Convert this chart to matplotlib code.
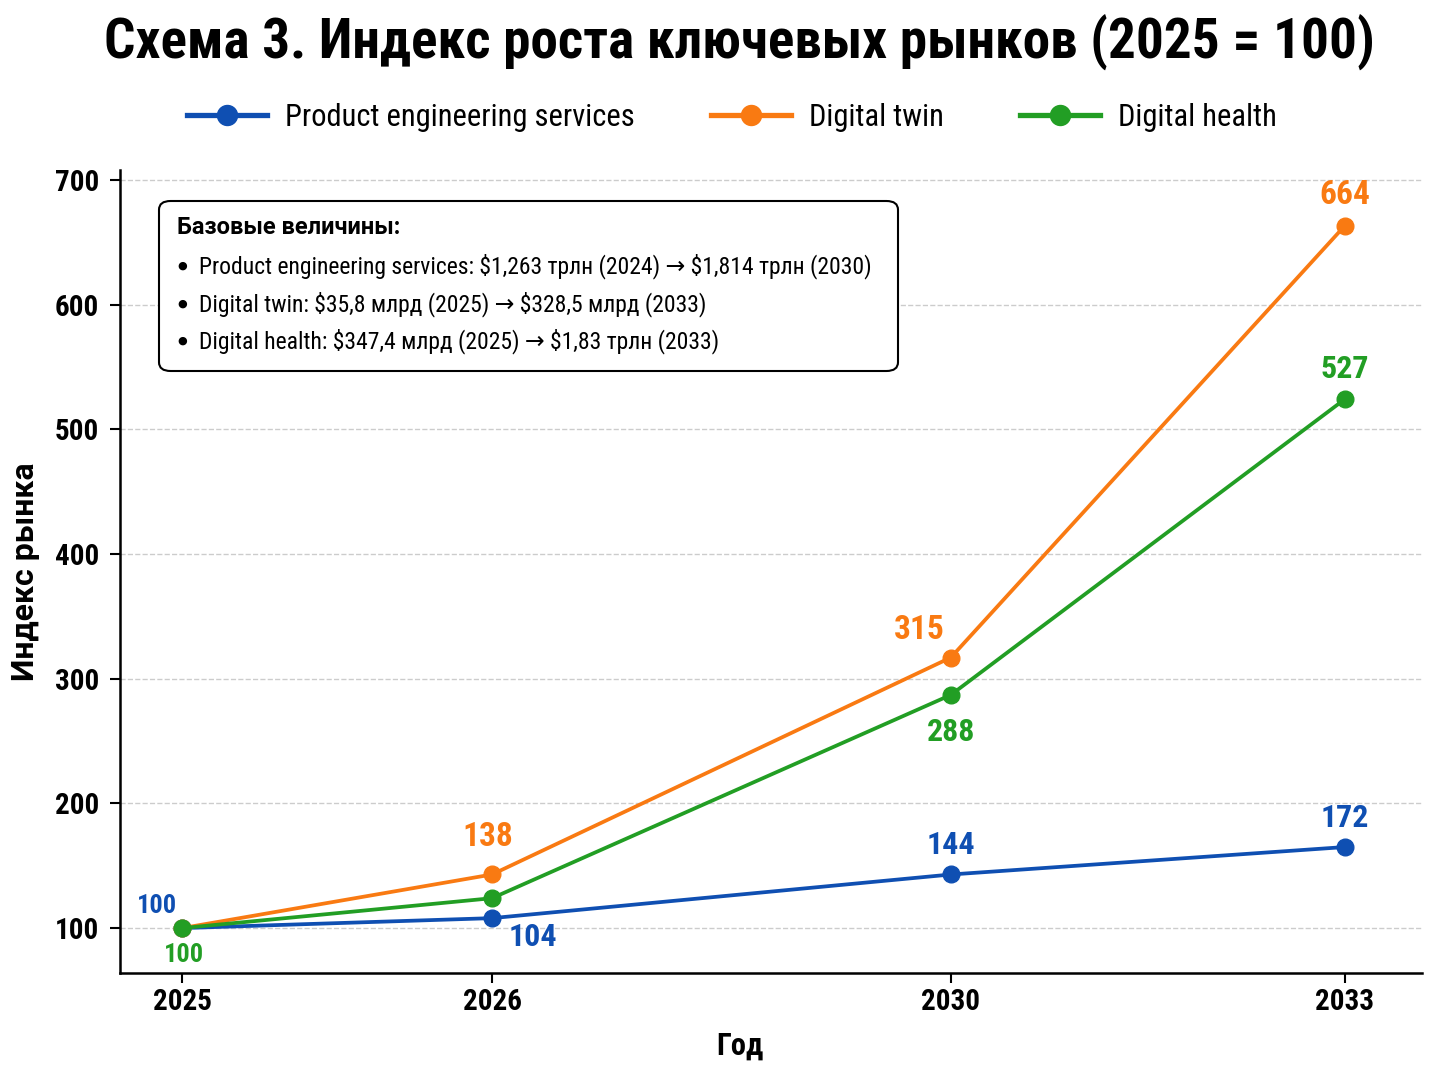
import matplotlib
matplotlib.use("Agg")
import matplotlib.pyplot as plt
from matplotlib import font_manager as fm
from matplotlib.patches import FancyBboxPatch

names = {f.name for f in fm.fontManager.ttflist}
cands = [n for n in ["Roboto Condensed", "Liberation Sans Narrow"] if n in names]
fam = cands[:1] + ["Roboto", "DejaVu Sans"]
plt.rcParams['font.family'] = fam
wide = ["Roboto", "DejaVu Sans"]

years = ["2025", "2026", "2030", "2033"]
x_pos = [0.0, 1.0, 2.48, 3.75]
pes = [100, 108, 143, 165]
twin = [100, 143, 317, 663]
health = [100, 124, 287, 524]
pes_labels = ["100", "104", "144", "172"]
twin_labels = [None, "138", "315", "664"]
health_labels = ["100", None, "288", "527"]
series_names = ["Product engineering services", "Digital twin", "Digital health"]
colors = ["#0F4FB2", "#F97A12", "#229E24"]
box_title = "Базовые величины:"
box_items = [
    "Product engineering services: \\$1,263 трлн (2024) → \\$1,814 трлн (2030)",
    "Digital twin: \\$35,8 млрд (2025) → \\$328,5 млрд (2033)",
    "Digital health: \\$347,4 млрд (2025) → \\$1,83 трлн (2033)",
]

fig = plt.figure(figsize=(14.48, 10.86), dpi=100)
ax = fig.add_axes([120/1448, 1-973/1086, (1422-120)/1448, (973-170)/1086])

series = [pes, twin, health]
for vals, name, c in zip(series, series_names, colors):
    ax.plot(x_pos, vals, color=c, lw=2.7, marker='o', ms=12, label=name, zorder=3)

def lab(i, vals, text, c, dx, dy, size=23, ha='center'):
    if text is None:
        return
    ax.annotate(text, (x_pos[i], vals[i]), xytext=(dx, dy), textcoords='offset pixels',
                ha=ha, va='center', color=c, fontsize=size, fontweight='bold', zorder=5)

lab(0, pes, pes_labels[0], colors[0], -25, 22, size=19)
lab(1, pes, pes_labels[1], colors[0], 41, -19)
lab(2, pes, pes_labels[2], colors[0], 0, 29)
lab(3, pes, pes_labels[3], colors[0], 0, 29)
lab(1, twin, twin_labels[1], colors[1], -4, 37, size=24)
lab(2, twin, twin_labels[2], colors[1], -31, 28, size=24)
lab(3, twin, twin_labels[3], colors[1], 0, 31, size=24)
lab(0, health, health_labels[0], colors[2], 2, -27, size=19)
lab(2, health, health_labels[2], colors[2], 0, -37)
lab(3, health, health_labels[3], colors[2], 0, 30)

ax.set_xlim(-0.2, 4.0)
ax.set_ylim(64, 708)
ax.set_xticks(x_pos)
ax.set_xticklabels(years)
ax.set_yticks([100, 200, 300, 400, 500, 600, 700])
ax.tick_params(axis='both', labelsize=21, width=1.5, length=7)
ax.tick_params(axis='y', pad=8)
for t in ax.get_xticklabels() + ax.get_yticklabels():
    t.set_fontweight('bold')
ax.grid(axis='y', color='#cccccc', ls='--', lw=1)
ax.set_axisbelow(True)
for s in ['top', 'right']:
    ax.spines[s].set_visible(False)
for s in ['left', 'bottom']:
    ax.spines[s].set_linewidth(1.8)

ax.set_xlabel("Год", fontsize=22, fontweight='bold')
ax.xaxis.set_label_coords((740-120)/1302, -(1031-973)/803)
ax.set_ylabel("Индекс рынка", fontsize=23, fontweight='bold', family=wide)
ax.yaxis.set_label_coords(-(120-40)/1302, 0.5)

fig.suptitle("Схема 3. Индекс роста ключевых рынков (2025 = 100)", fontsize=39.7,
             fontweight='bold', x=739/1448, y=1-42/1086, va='center')

leg = fig.legend(loc='center', bbox_to_anchor=(732/1448, 1-117/1086), ncol=3, frameon=False,
                 fontsize=22, handlelength=2.6, columnspacing=2.5, handletextpad=0.6,
                 markerscale=1.2)
for h in leg.get_lines():
    h.set_linewidth(3.8)

bx0, by0, bx1, by1 = 159, 201, 898, 371
patch = FancyBboxPatch((bx0/1448, 1-by1/1086), (bx1-bx0)/1448, (by1-by0)/1086,
                       boxstyle="round,pad=0,rounding_size=0.008", transform=fig.transFigure,
                       facecolor='white', edgecolor='black', lw=1.5, zorder=4)
fig.patches.append(patch)
fig.text(177/1448, 1-228/1086, box_title, fontsize=17, fontweight='bold', family=wide,
         va='center', ha='left', zorder=6)
for t, yy in zip(box_items, [266, 304, 341]):
    fig.text(177/1448, 1-yy/1086, "●", fontsize=8, va='center', ha='left', zorder=6)
    fig.text(199/1448, 1-yy/1086, t, fontsize=17, va='center', ha='left', zorder=6)

fig.savefig("out.png", dpi=100)
